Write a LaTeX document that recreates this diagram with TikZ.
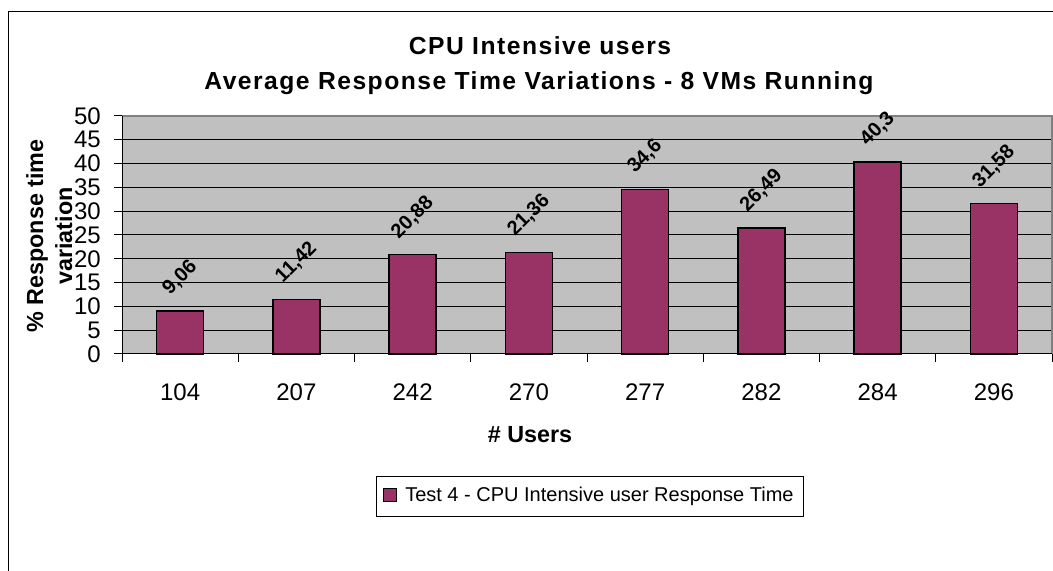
\documentclass[tikz,border=0pt]{standalone}
\usepackage{fontspec}
\setmainfont{Liberation Sans}
\newfontfamily\ttlfont[LetterSpace=6]{Liberation Sans}
\definecolor{barcol}{HTML}{993366}
\definecolor{plotbg}{HTML}{C0C0C0}
\definecolor{rimgray}{HTML}{808080}
\begin{document}
\begin{tikzpicture}[x=0.75pt, y=0.75pt, every node/.style={inner sep=0pt},
	ttl/.style={font=\ttlfont\bfseries\fontsize{18.5}{21}\selectfont, anchor=base},
	axttl/.style={font=\bfseries\fontsize{17.5}{21}\selectfont, anchor=base},
	ticklbl/.style={font=\fontsize{18}{21}\selectfont},
	datalbl/.style={font=\bfseries\fontsize{15}{18}\selectfont, rotate=45},
	bar/.style={fill=barcol, draw=black, line width=1.1pt},
	gridline/.style={line width=0.75pt}]
\useasboundingbox (0,0) rectangle (1053,571);
\draw[line width=0.75pt] (8,0) -- (8,559) -- (1053,559);
% titles
\node[ttl] (title1) at (540,516) {CPU Intensive users};
\node[ttl] (title2) at (539,481) {Average Response Time Variations - 8 VMs Running};
\node[axttl, rotate=90] (ytitle1) at (43,335) {\% Response time};
\node[axttl, rotate=90] (ytitle2) at (72,335) {variation};
\node[axttl] (xtitle) at (530,128) {\# Users};
% plot area
\fill[plotbg] (122,217) rectangle (1052,455);
\foreach \g in {5,10,...,45}{
	\draw[gridline] (122,217+\g*4.76) -- (1052,217+\g*4.76);
}
\draw[rimgray, line width=1pt] (122,455) -- (1052,455) -- (1052,217);
\foreach \g in {0,5,...,50}{
	\draw[gridline] (114,217+\g*4.76) -- (122,217+\g*4.76);
	\node[ticklbl, anchor=east] (pct\g) at (101,217+\g*4.76) {\g};
}
\foreach \k in {0,...,8}{
	\draw[gridline] (122+\k*116.25,217) -- (122+\k*116.25,209);
}
\draw[gridline] (122,455) -- (122,217) -- (1052,217);
% bars
\foreach[count=\c] \n/\v/\t/\o in {
	104/9.06/{9,06}/33
	,207/11.42/{11,42}/37
	,242/20.88/{20,88}/37
	,270/21.36/{21,36}/37
	,277/34.6/{34,6}/33
	,282/26.49/{26,49}/37
	,284/40.3/{40,3}/33
	,296/31.58/{31,58}/37
}{
	\pgfmathsetmacro\xc{122+(\c-0.5)*116.25}
	\pgfmathsetmacro\yt{217+\v*4.76}
	\draw[bar] (\xc-23.5,217) rectangle (\xc+23.5,\yt);
	\node[datalbl] (val\c) at (\xc,\yt+\o) {\t};
	\node[ticklbl] (usr\c) at (\xc,179) {\n};
}
% legend
\draw[line width=0.75pt] (376,54) rectangle (803,94);
\draw[bar, line width=0.75pt] (383,69) rectangle (396,82);
\node[font=\fontsize{15}{18}\selectfont, anchor=base west] (legtext) at (405,69.5) {Test 4 - CPU Intensive user Response Time};
\end{tikzpicture}
\end{document}
